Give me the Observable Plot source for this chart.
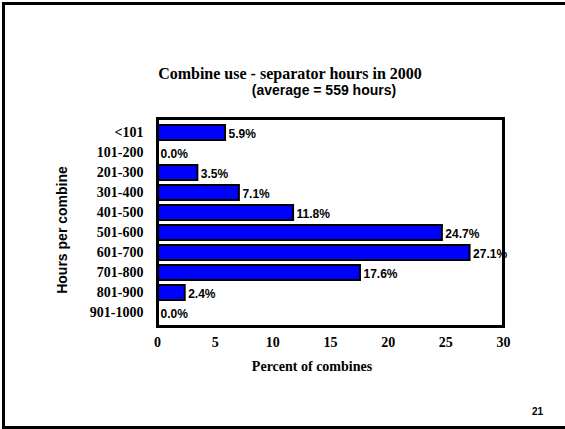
<!DOCTYPE html>
<html>
<head>
<meta charset="utf-8">
<script src="https://cdn.jsdelivr.net/npm/d3@7"></script>
<script src="https://cdn.jsdelivr.net/npm/@observablehq/plot@0.6"></script>
<style>
  html, body { margin: 0; padding: 0; background: #fff; }
  body { width: 565px; height: 429px; overflow: hidden; position: relative; }
  #page-frame { position: absolute; left: 2px; top: 2px; width: 640px; height: 427px; border: 3px solid #000; box-sizing: border-box; }
  .t { position: absolute; white-space: nowrap; color: #000; line-height: 1.1; }
  #title { font: bold 16px "Liberation Serif", serif; left: 290px; top: 65px; transform: translateX(-50%); }
  #subtitle { font: bold 14px "Liberation Sans", sans-serif; left: 324px; top: 82px; transform: translateX(-50%); }
  #ylabel { font: bold 14px "Liberation Sans", sans-serif; left: 62px; top: 230px; transform: translate(-50%, -50%) rotate(-90deg); }
  #xlabel { font: bold 14px "Liberation Serif", serif; left: 312px; top: 359px; transform: translateX(-50%); }
  #pagenum { font: bold 10px "Liberation Sans", sans-serif; left: 532px; top: 406px; }
  #chart { position: absolute; left: 0; top: 0; }
</style>
</head>
<body>
<div id="page-frame"></div>
<div id="chart"></div>
<div class="t" id="title">Combine use - separator hours in 2000</div>
<div class="t" id="subtitle">(average = 559 hours)</div>
<div class="t" id="ylabel">Hours per combine</div>
<div class="t" id="xlabel">Percent of combines</div>
<div class="t" id="pagenum">21</div>
<script>
const categories = ["<101", "101-200", "201-300", "301-400", "401-500", "501-600", "601-700", "701-800", "801-900", "901-1000"];
const percents = [5.9, 0.0, 3.5, 7.1, 11.8, 24.7, 27.1, 17.6, 2.4, 0.0];
const xTicks = [0, 5, 10, 15, 20, 25, 30];

const data = categories.map((c, i) => ({category: c, value: percents[i]}));

const chart = Plot.plot({
  width: 565,
  height: 429,
  marginLeft: 157,
  marginRight: 62,
  marginTop: 118,
  marginBottom: 103,
  style: {background: "transparent", overflow: "visible"},
  x: {domain: [0, 30], ticks: xTicks, label: null},
  y: {domain: categories, paddingInner: 0.27, paddingOuter: 0.15, label: null},
  marks: [
    Plot.barX(data.filter(d => d.value > 0), {x: "value", y: "category", fill: "#0000ff", stroke: "#000", strokeWidth: 2}),
    Plot.text(data, {x: "value", y: "category", text: d => d.value.toFixed(1) + "%", textAnchor: "start", dx: 3, dy: 1,
      fontFamily: "Liberation Sans", fontWeight: "bold", fontSize: 12, fill: "#000"}),
    Plot.frame({stroke: "#000", strokeWidth: 3}),
    Plot.axisX({ticks: xTicks, tickSize: 0, tickPadding: 11, label: null, fontFamily: "Liberation Serif", fontWeight: "bold", fontSize: 14, fill: "#000", letterSpacing: 0.5}),
    Plot.axisY({tickSize: 0, tickPadding: 14, label: null, fontFamily: "Liberation Serif", fontWeight: "bold", fontSize: 14, fill: "#000", letterSpacing: 1})
  ]
});
document.getElementById("chart").appendChild(chart);
</script>
</body>
</html>
